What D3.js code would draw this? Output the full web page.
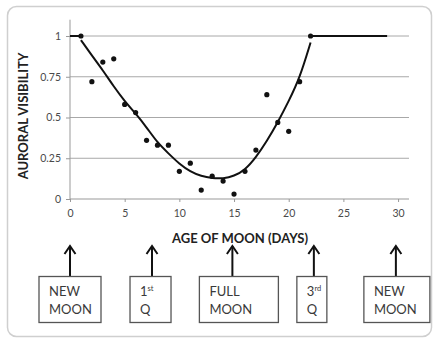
<!DOCTYPE html>
<html lang="en">
<head>
  <meta charset="UTF-8">
  <title>Auroral visibility vs age of moon</title>
  <script src="https://d3js.org/d3.v7.min.js"></script>
  <style>
    html, body {
      margin: 0;
      padding: 0;
      background: #fff;
      font-family: Lato, "Open Sans", sans-serif;
    }
    svg { display: block; }
  </style>
</head>
<body>
<svg width="435" height="341"></svg>
<script>
// observed points
const days = [1, 2, 3, 4, 5, 6, 7, 8, 9, 10, 11, 12, 13, 14, 15, 16, 17, 18, 19, 20, 21, 22];
const visibility = [1.0, 0.72, 0.84, 0.86, 0.58, 0.53, 0.36, 0.33, 0.33, 0.17, 0.22, 0.055,
                    0.14, 0.11, 0.03, 0.17, 0.30, 0.64, 0.47, 0.415, 0.72, 1.0];

// fitted curve
const trendDays = [1, 2, 3, 4, 5, 6, 7, 8, 9, 10, 11, 12, 13, 14, 15, 16, 17, 18, 19, 20, 21, 22];
const trendValues = [0.975, 0.88, 0.79, 0.69, 0.60, 0.525, 0.44, 0.345, 0.28, 0.215, 0.168, 0.14,
                     0.127, 0.125, 0.14, 0.178, 0.255, 0.355, 0.47, 0.60, 0.74, 0.96];

// flat parts at full visibility
const flatSegments = [[[0, 1], [1, 1]], [[22, 1], [29, 1]]];

const yTicks = [0, 0.25, 0.5, 0.75, 1];
const xTicks = [0, 5, 10, 15, 20, 25, 30];

const phaseDays = [0, 7.5, 14.85, 22.3, 29.8];
const phaseLines = [["NEW", "MOON"], ["1|st", "Q"], ["FULL", "MOON"], ["3|rd", "Q"], ["NEW", "MOON"]];

const svg = d3.select("svg");

// card
svg.append("rect")
  .attr("x", 7.5).attr("y", 6.5)
  .attr("width", 424).attr("height", 330)
  .attr("rx", 9)
  .attr("fill", "#fff")
  .attr("stroke", "#cfcfcf")
  .attr("stroke-width", 1.5);

const x = d3.scaleLinear().domain([0, 31]).range([70, 409]);
const y = d3.scaleLinear().domain([0, 1.1]).range([199, 19.7]);

// gridlines
svg.append("g")
  .selectAll("line")
  .data(yTicks.filter(d => d > 0))
  .join("line")
  .attr("x1", x(0)).attr("x2", x(31))
  .attr("y1", d => y(d)).attr("y2", d => y(d))
  .attr("stroke", "#a8a8a8")
  .attr("stroke-width", 1);

// y axis
const yAxis = svg.append("g")
  .attr("transform", `translate(${x(0)},0)`)
  .call(d3.axisLeft(y).tickValues(yTicks).tickSize(4).tickPadding(5).tickFormat(d => d));
yAxis.select(".domain").attr("stroke", "#999").attr("d", `M-0,${y(0)}V${y(1.1)}`);
yAxis.selectAll(".tick line").attr("stroke", "#999");
yAxis.selectAll("text").attr("fill", "#4a4a4a").attr("font-size", 10.5).attr("font-family", "Lato, sans-serif");

// x axis
const xAxis = svg.append("g")
  .attr("transform", `translate(0,${y(0)})`)
  .call(d3.axisBottom(x).tickValues(xTicks).tickSize(3).tickPadding(8));
xAxis.select(".domain").attr("stroke", "#999").attr("d", `M${x(0)},0H${x(31)}`);
xAxis.selectAll(".tick line").attr("stroke", "#999");
xAxis.selectAll("text").attr("fill", "#4a4a4a").attr("font-size", 10.5).attr("font-family", "Lato, sans-serif");

// axis titles
svg.append("text")
  .attr("x", 240).attr("y", 243)
  .attr("text-anchor", "middle")
  .attr("font-weight", "bold")
  .attr("font-size", 13)
  .attr("fill", "#222")
  .text("AGE OF MOON (DAYS)");

svg.append("text")
  .attr("transform", "translate(28,116) rotate(-90)")
  .attr("text-anchor", "middle")
  .attr("font-weight", "bold")
  .attr("font-size", 13)
  .attr("fill", "#222")
  .text("AURORAL VISIBILITY");

// flat segments
const line = d3.line().x(d => x(d[0])).y(d => y(d[1]));
svg.append("g")
  .selectAll("path")
  .data(flatSegments)
  .join("path")
  .attr("d", line)
  .attr("fill", "none")
  .attr("stroke", "#111")
  .attr("stroke-width", 2);

// trend curve
const trend = d3.line()
  .x(d => x(d[0])).y(d => y(d[1]))
  .curve(d3.curveBasis);
svg.append("path")
  .datum(d3.zip(trendDays, trendValues))
  .attr("d", trend)
  .attr("fill", "none")
  .attr("stroke", "#111")
  .attr("stroke-width", 2);

// points
svg.append("g")
  .selectAll("circle")
  .data(d3.zip(days, visibility))
  .join("circle")
  .attr("cx", d => x(d[0]))
  .attr("cy", d => y(d[1]))
  .attr("r", 2.6)
  .attr("fill", "#111");

// moon phase arrows and boxes
const boxLeft = [-31, -22, -33, -17, -32];
const boxWidth = [62, 41, 79, 30, 66];
const phase = svg.append("g");
phaseDays.forEach((d, i) => {
  const px = x(d);
  const g = phase.append("g");
  g.append("line")
    .attr("x1", px).attr("x2", px)
    .attr("y1", 246).attr("y2", 276)
    .attr("stroke", "#111").attr("stroke-width", 2);
  g.append("path")
    .attr("d", `M${px - 5.5},${254}L${px},${246}L${px + 5.5},${254}`)
    .attr("fill", "none").attr("stroke", "#111").attr("stroke-width", 2);
  g.append("rect")
    .attr("x", px + boxLeft[i]).attr("y", 276.5)
    .attr("width", boxWidth[i]).attr("height", 46)
    .attr("fill", "#fff")
    .attr("stroke", "#555").attr("stroke-width", 1.3);
  phaseLines[i].forEach((t, j) => {
    const txt = g.append("text")
      .attr("x", px + boxLeft[i] + 10)
      .attr("y", 296 + j * 17.5)
      .attr("font-size", 13)
      .attr("fill", "#3a3a3a");
    const parts = t.split("|");
    txt.append("tspan").text(parts[0]);
    if (parts[1]) {
      txt.append("tspan")
        .attr("font-size", 7.5)
        .attr("dy", -5)
        .text(parts[1]);
    }
  });
});
</script>
</body>
</html>
